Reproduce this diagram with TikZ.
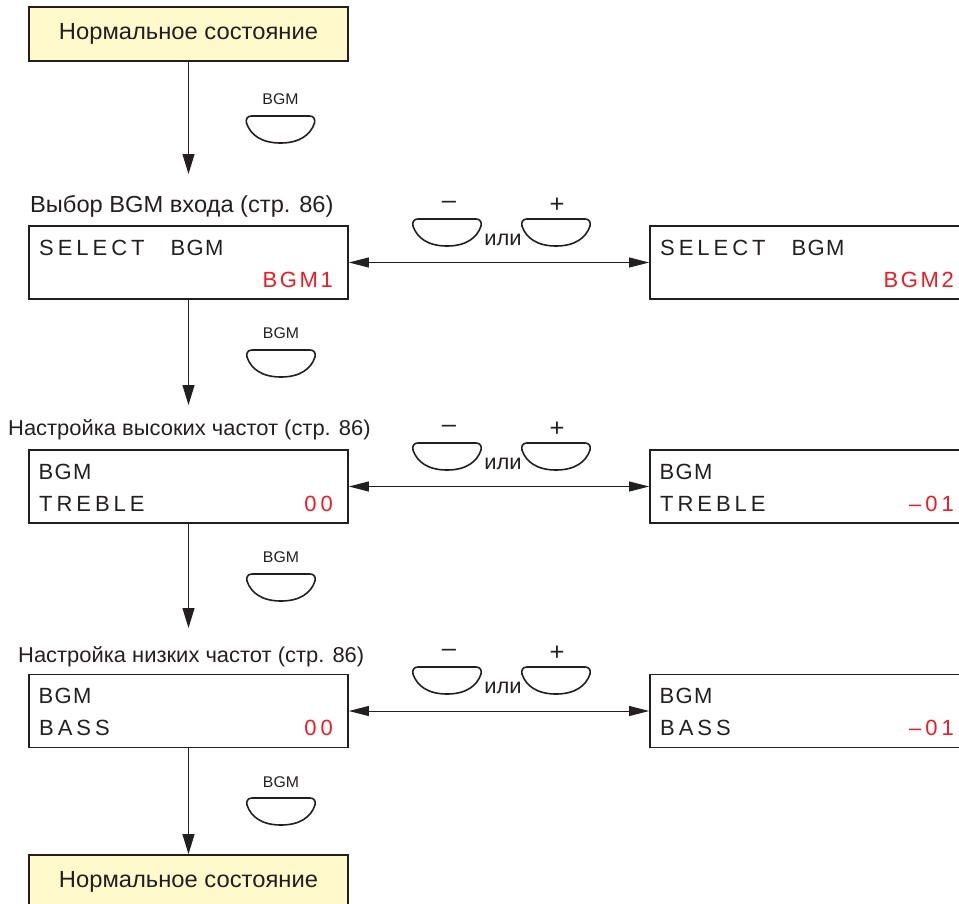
\documentclass[tikz,border=0pt]{standalone}
\usepackage{fontspec}
\setmainfont{Liberation Sans}[FakeStretch=1.02]
\newfontfamily\lcdfont{Liberation Sans}[LetterSpace=18]
\newfontfamily\lcdmid{Liberation Sans}[LetterSpace=12]
\newfontfamily\lcdtight{Liberation Sans}[LetterSpace=6]
\usetikzlibrary{arrows.meta}
\definecolor{txt}{RGB}{35,31,32}
\definecolor{lcdred}{RGB}{237,28,36}
\definecolor{normfill}{RGB}{255,249,204}
\tikzset{
  normbox/.style={draw=txt, line width=1.8pt, fill=normfill, minimum width=319pt, minimum height=54pt, inner sep=0pt, font=\fontsize{23.3}{26}\selectfont, text=txt},
  lcdbox/.style={draw=txt, line width=1.8pt, minimum width=319pt, minimum height=73pt, inner sep=0pt},
  caption/.style={anchor=base west, inner sep=0pt, font=\fontsize{21.5}{24}\selectfont, text=txt},
  bigcaption/.style={caption, font=\fontsize{23.2}{26}\selectfont},
  lcdtxt/.style={anchor=base west, inner sep=0pt, font=\lcdfont\fontsize{22}{24}\selectfont, text=txt},
  lcdbgm/.style={anchor=base west, inner sep=0pt, font=\lcdtight\fontsize{22}{24}\selectfont, text=txt},
  lcdval/.style={lcdtxt, anchor=base east, text=lcdred},
  lcdsel/.style={lcdval, font=\lcdmid\fontsize{22}{24}\selectfont},
  keylbl/.style={inner sep=0pt, font=\fontsize{15.5}{16}\selectfont, text=txt},
  pmlbl/.style={inner sep=0pt, font=\fontsize{25}{26}\selectfont, text=txt},
  orlbl/.style={anchor=base, inner sep=0pt, font=\fontsize{21.5}{22}\selectfont, text=txt},
  flow/.style={draw=txt, line width=1pt, -{Triangle[length=20pt,width=12pt]}},
  both/.style={draw=txt, line width=1pt, {Triangle[length=20pt,width=10pt]}-{Triangle[length=20pt,width=10pt]}},
  btn/.pic={\draw[txt, line width=1.6pt] (-29,0) -- (29,0) .. controls (33,0) and (35,3) .. (34,7) .. controls (30,19) and (19,27) .. (0,27) .. controls (-19,27) and (-30,19) .. (-34,7) .. controls (-35,3) and (-33,0) .. (-29,0) -- cycle;}
}
\begin{document}
\begin{tikzpicture}[x=1pt,y=-1pt]
\useasboundingbox (0,0) rectangle (959,903);
\clip (0,0) rectangle (959,903);
% top normal state
\node[normbox] (n0) at (188.5,34) {Нормальное состояние};
% section 1
\node[bigcaption] (c1) at (30,212) {Выбор BGM входа (стр. 86)};
\node[lcdbox] (b1) at (188.5,262.5) {};
\node[lcdtxt] (b1t) at (39,255) {SELECT};
\node[lcdbgm] (b1g) at (170.5,255) {BGM};
\node[lcdsel] (b1v) at (333,287) {BGM1};
\node[lcdbox] (r1) at (809.5,262.5) {};
\node[lcdtxt] (r1t) at (660,255) {SELECT};
\node[lcdbgm] (r1g) at (791.5,255) {BGM};
\node[lcdsel] (r1v) at (954,287) {BGM2};
% section 2
\node[caption] (c2) at (8,435) {Настройка высоких частот (стр. 86)};
\node[lcdbox] (b2) at (188.5,486.5) {};
\node[lcdbgm] (b2t) at (38.5,479) {BGM};
\node[lcdtxt] (b2u) at (39,511) {TREBLE};
\node[lcdval] (b2v) at (333,511) {00};
\node[lcdbox] (r2) at (809.5,486.5) {};
\node[lcdbgm] (r2t) at (659.5,479) {BGM};
\node[lcdtxt] (r2u) at (660,511) {TREBLE};
\node[lcdval] (r2v) at (954,511) {–01};
% section 3
\node[caption] (c3) at (18,662) {Настройка низких частот (стр. 86)};
\node[lcdbox] (b3) at (188.5,711) {};
\node[lcdbgm] (b3t) at (38.5,703) {BGM};
\node[lcdtxt] (b3u) at (39,735) {BASS};
\node[lcdval] (b3v) at (333,735) {00};
\node[lcdbox] (r3) at (809.5,711) {};
\node[lcdbgm] (r3t) at (659.5,703) {BGM};
\node[lcdtxt] (r3u) at (660,735) {BASS};
\node[lcdval] (r3v) at (954,735) {–01};
% bottom normal state
\node[normbox] (n1) at (188.5,882) {Нормальное состояние};
% vertical flow
\coordinate (e1) at (188.5,174);
\coordinate (e2) at (188.5,405);
\coordinate (e3) at (188.5,628);
\draw[flow] (n0.south) -- (e1);
\draw[flow] (b1.south) -- (e2);
\draw[flow] (b2.south) -- (e3);
\draw[flow] (b3.south) -- (n1.north);
% BGM keys
\node[keylbl] (k1) at (280.5,99) {BGM};
\pic at (280.5,116) {btn};
\node[keylbl] (k2) at (281,333) {BGM};
\pic at (281,350) {btn};
\node[keylbl] (k3) at (281,557) {BGM};
\pic at (281,574) {btn};
\node[keylbl] (k4) at (281,782) {BGM};
\pic at (281,798) {btn};
% horizontal arrows with -/+ keys
\draw[both] (b1.east) -- (r1.west);
\draw[both] (b2.east) -- (r2.west);
\draw[both] (b3.east) -- (r3.west);
\foreach \dy/\nm in {0/p1, 224/p2, 448/p3}{
  \node[pmlbl] (\nm m) at (449,205+\dy) {–};
  \node[pmlbl] (\nm p) at (557,205+\dy) {+};
  \pic at (447,219+\dy) {btn};
  \pic at (556,219+\dy) {btn};
  \node[orlbl] (\nm o) at (503,245+\dy) {или};
}
\end{tikzpicture}
\end{document}
